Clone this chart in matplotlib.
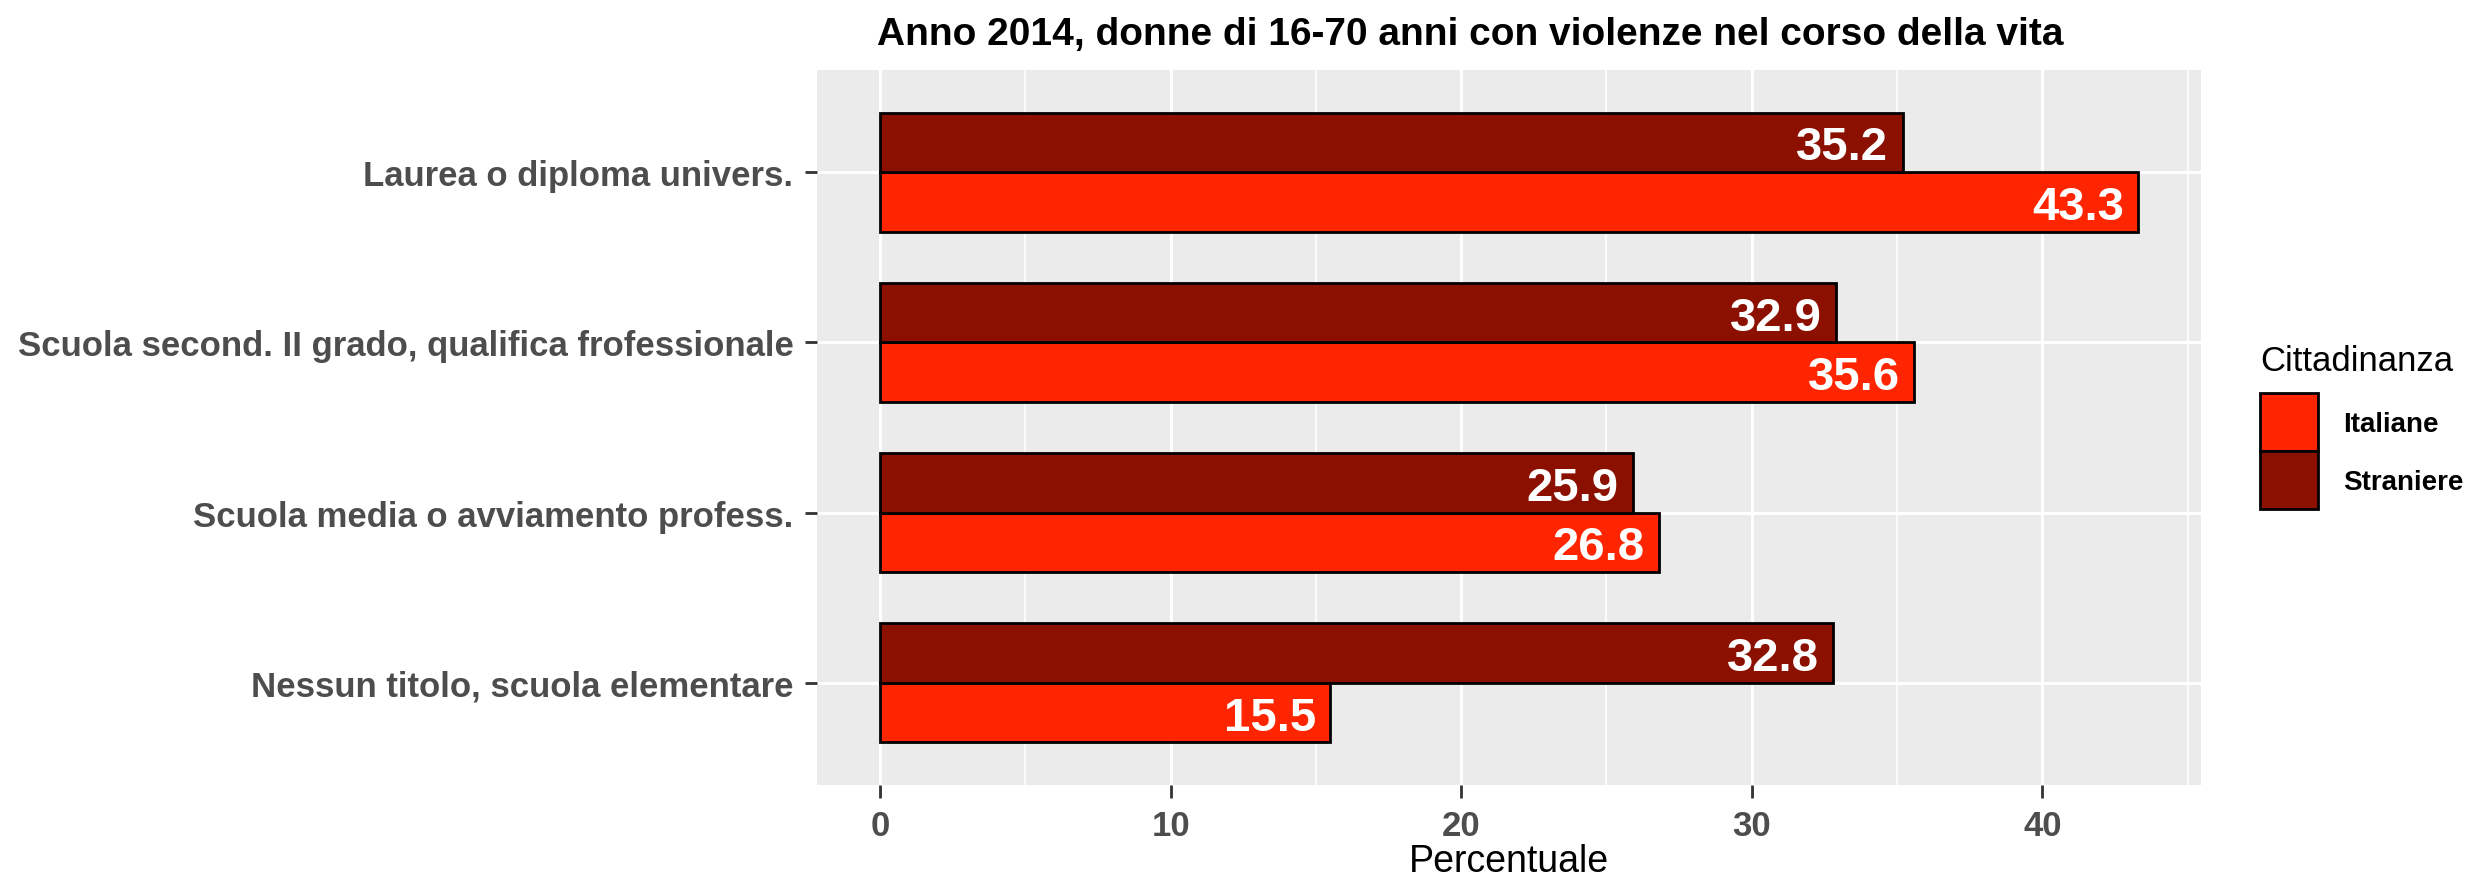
import matplotlib.pyplot as plt
import numpy as np
from matplotlib.patches import Patch

categories = ["Nessun titolo, scuola elementare",
              "Scuola media o avviamento profess.",
              "Scuola second. II grado, qualifica frofessionale",
              "Laurea o diploma univers."]
italiane = [15.5, 26.8, 35.6, 43.3]
straniere = [32.8, 25.9, 32.9, 35.2]
series_names = ["Italiane", "Straniere"]
col_ita = "#FF2500"
col_str = "#8B1000"

plt.rcParams['font.family'] = ['Liberation Sans', 'DejaVu Sans']

fig = plt.figure(figsize=(24.79, 8.79), dpi=100)
ax = fig.add_axes([0.3296, 0.1058, 0.8879 - 0.3296, 0.9192 - 0.1058])
ax.set_facecolor("#EBEBEB")

y = np.arange(len(categories)) + 1
h = 0.35
ax.barh(y - h / 2, italiane, height=h, color=col_ita, edgecolor="black", linewidth=2, zorder=3)
ax.barh(y + h / 2, straniere, height=h, color=col_str, edgecolor="black", linewidth=2, zorder=3)

# etichette bianche dentro le barre
for yi, v in zip(y - h / 2, italiane):
    ax.text(v - 0.5, yi, f"{v:.1f}", ha="right", va="center_baseline", color="white",
            fontsize=34, fontweight="bold", zorder=4)
for yi, v in zip(y + h / 2, straniere):
    ax.text(v - 0.5, yi, f"{v:.1f}", ha="right", va="center_baseline", color="white",
            fontsize=34, fontweight="bold", zorder=4)

xmax = max(max(italiane), max(straniere))
ax.set_xlim(-0.05 * xmax, 1.05 * xmax)
ax.set_ylim(0.4, len(categories) + 0.6)
ax.set_xticks([0, 10, 20, 30, 40])
ax.set_xticks([5, 15, 25, 35, 45], minor=True)
ax.set_yticks(y)
ax.set_yticklabels(categories)
ax.grid(which="major", color="white", linewidth=2.2, zorder=0)
ax.grid(which="minor", axis="x", color="white", linewidth=1.1, zorder=0)
ax.set_axisbelow(True)
for s in ax.spines.values():
    s.set_visible(False)
ax.tick_params(axis="both", which="major", color="#333333", length=9, width=2,
               labelcolor="#4D4D4D", labelsize=25, pad=8)
ax.tick_params(which="minor", length=0)
for lab in ax.get_xticklabels() + ax.get_yticklabels():
    lab.set_fontweight("bold")

ax.set_xlabel("Percentuale", fontsize=27, labelpad=1)

fig.text(0.593, 0.960, "Anno 2014, donne di 16-70 anni con violenze nel corso della vita",
         ha="center", va="center", fontsize=28, fontweight="bold")

handles = [Patch(facecolor=col_ita, edgecolor="black", linewidth=2),
           Patch(facecolor=col_str, edgecolor="black", linewidth=2)]
leg = fig.legend(handles, series_names, title="Cittadinanza", loc="upper left",
                 bbox_to_anchor=(0.9117, 0.608), frameon=False, fontsize=20,
                 title_fontsize=25, handlelength=2.09, handleheight=2.84,
                 handletextpad=0.9, labelspacing=0.0, borderpad=0, borderaxespad=0)
leg._legend_box.align = "left"
leg._legend_box.sep = 12
for t in leg.get_texts():
    t.set_fontweight("bold")

fig.savefig("out.png", dpi=100)
